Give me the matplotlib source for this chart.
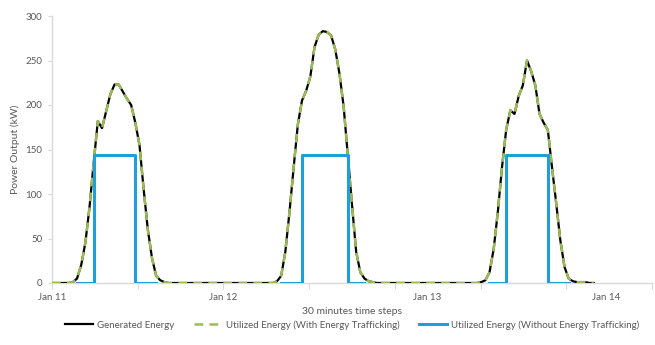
import numpy as np
import matplotlib
matplotlib.use("Agg")
import matplotlib.pyplot as plt
from matplotlib.ticker import FixedLocator, NullFormatter

plt.rcParams['font.family'] = ['Lato', 'DejaVu Sans']

# Half-hourly generated power (kW), steps 0..130
generated = [
    0, 0, 0, 0, 0, 1, 5, 20, 45, 85,
    135, 182, 174, 193, 212, 223, 223, 215, 207, 200,
    180, 155, 105, 60, 28, 8, 3, 1, 0, 0,
    0, 0, 0, 0, 0, 0, 0, 0, 0, 0,
    0, 0, 0, 0, 0, 0, 0, 0, 0, 0,
    0, 0, 0, 0, 2, 8, 35, 80, 130, 178,
    205, 216, 232, 265, 279, 283, 282, 278, 262, 235,
    198, 143, 88, 35, 12, 5, 2, 1, 0, 0,
    0, 0, 0, 0, 0, 0, 0, 0, 0, 0,
    0, 0, 0, 0, 0, 0, 0, 0, 0, 0,
    0, 0, 0, 1, 3, 12, 38, 80, 130, 172,
    194, 190, 210, 222, 250, 238, 222, 190, 180, 172,
    130, 90, 48, 18, 5, 2, 1, 1, 1, 0,
    0,
]
# Utilized energy with trafficking equals the generated profile
utilized_traffic = list(generated)

# Utilized energy without trafficking: (step, kW) segments drawn as post-steps
no_traffic_days = [
    ([6, 7, 8, 9, 10, 11, 12, 13, 14, 15, 16, 17, 18, 19, 20, 21, 22, 23, 24, 25],
     [0, 0, 0, 0, 144, 144, 144, 144, 144, 144, 144, 144, 144, 144, 0, 0, 0, 0, 0, 0]),
    ([55, 56, 57, 58, 59, 60, 61, 62, 63, 64, 65, 66, 67, 68, 69, 70, 71, 72, 73, 74, 75],
     [0, 0, 0, 0, 0, 144, 144, 144, 144, 144, 144, 144, 144, 144, 144, 144, 0, 0, 0, 0, 0]),
    ([105, 106, 107, 108, 109, 110, 111, 112, 113, 114, 115, 116, 117, 118, 119, 120, 121, 122, 123, 124],
     [0, 0, 0, 0, 144, 144, 144, 144, 144, 144, 144, 144, 144, 144, 0, 0, 0, 0, 0, 0]),
]

day_labels = ["Jan 11", "Jan 12", "Jan 13", "Jan 14"]
day_label_steps = [0, 41, 90, 133]
axis_steps = 144
y_ticks = [0, 50, 100, 150, 200, 250, 300]

grey_axis = "#d9d9d9"
grey_text = "#595959"
blue = "#1f9fd8"
green = "#9bbb59"

fig = plt.figure(figsize=(6.55, 3.45), dpi=100)
ax = fig.add_axes([52 / 655, 1 - 283 / 345, 600 / 655, 267 / 345])

steps = np.arange(len(generated))
ax.plot(steps, generated, color="black", lw=1.6, label="Generated Energy", zorder=3)
ax.plot(steps, utilized_traffic, color=green, lw=1.8, ls=(0, (3.5, 2.5)),
        label="Utilized Energy (With Energy Trafficking)", zorder=4)
for i, (xs, ys) in enumerate(no_traffic_days):
    ax.step(xs, ys, where="post", color=blue, lw=2.2, zorder=5,
            label="Utilized Energy (Without Energy Trafficking)" if i == 0 else None)

ax.set_xlim(0, axis_steps)
ax.set_ylim(0, 300)

for s in ("top", "right"):
    ax.spines[s].set_visible(False)
for s in ("left", "bottom"):
    ax.spines[s].set_color(grey_axis)
    ax.spines[s].set_linewidth(1.0)

ax.set_yticks(y_ticks)
ax.tick_params(axis="y", colors=grey_axis, labelcolor=grey_text, labelsize=7,
               length=3, width=0.8, pad=4)

# Major ticks: evenly spaced marks; minor ticks carry the date labels
ax.xaxis.remove_overlapping_locs = False
ax.xaxis.set_major_locator(FixedLocator(np.linspace(0, axis_steps, 8)))
ax.xaxis.set_major_formatter(NullFormatter())
ax.xaxis.set_minor_locator(FixedLocator(day_label_steps))
ax.set_xticklabels(day_labels, minor=True)
ax.tick_params(axis="x", which="major", colors=grey_axis, length=4, width=0.8)
ax.tick_params(axis="x", which="minor", length=0, labelsize=7,
               labelcolor=grey_text, pad=7)

ax.set_ylabel("Power Output (kW)", fontsize=7.5, color=grey_text, labelpad=4)
fig.text(0.5 * (52 + 652) / 655, 1 - 312 / 345, "30 minutes time steps",
         ha="center", va="center", fontsize=7.5, color=grey_text)

fig.legend(loc="center", bbox_to_anchor=(0.5 * (52 + 652) / 655, 1 - 325 / 345),
           ncol=3, frameon=False, fontsize=7, handlelength=2.9,
           columnspacing=2.0, handletextpad=0.4, labelcolor=grey_text)

fig.savefig("out.png", dpi=100)
